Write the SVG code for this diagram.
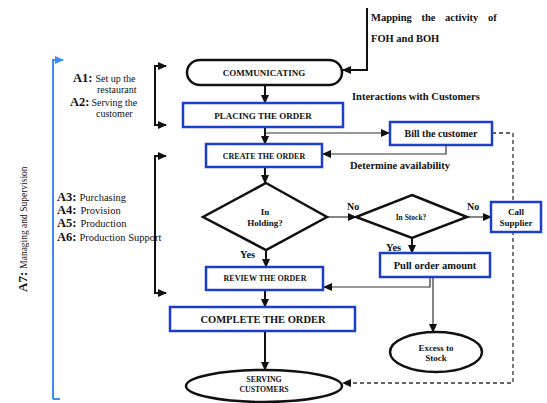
<svg xmlns="http://www.w3.org/2000/svg" width="547" height="403" viewBox="0 0 547 403" font-family="'Liberation Serif', 'DejaVu Serif', serif">
<style>
text{font-family:'Liberation Serif','DejaVu Serif',serif;fill:#111;}
.b{font-weight:bold;}
.c{text-anchor:middle;}
.box{fill:#fff;stroke:#1c3fc7;stroke-width:2.5;}
.blk{fill:#fff;stroke:#111;stroke-width:2.5;}
.ln{fill:none;stroke:#111;stroke-width:2;}
.thin{fill:none;stroke:#333;stroke-width:1.2;}
.dash{fill:none;stroke:#333;stroke-width:1.3;stroke-dasharray:4,3;}
</style>
<defs>
<marker id="ah" markerUnits="userSpaceOnUse" markerWidth="9" markerHeight="8" refX="8" refY="4" orient="auto-start-reverse"><path d="M0,0 L9,4 L0,8 z" fill="#111"/></marker>
<marker id="ahb" markerUnits="userSpaceOnUse" markerWidth="9" markerHeight="8" refX="8" refY="4" orient="auto"><path d="M0,0 L9,4 L0,8 z" fill="#3d8ef0"/></marker>
</defs>

<g id="labels">
<text x="371" y="21" class="b" font-size="10.5" word-spacing="7">Mapping the activity of</text>
<text x="371" y="42" class="b" font-size="10.5">FOH and BOH</text>
<text x="352" y="100" class="b" font-size="10.5">Interactions with Customers</text>
<text x="350" y="169" class="b" font-size="10.5">Determine availability</text>
<text x="240" y="258" class="b" font-size="10.5">Yes</text>
<text x="347" y="210" class="b" font-size="10">No</text>
<text x="467" y="210" class="b" font-size="10">No</text>
<text x="386" y="251" class="b" font-size="10.5">Yes</text>
<text x="73" y="82"><tspan class="b" font-size="12.5">A1:</tspan><tspan font-size="10" dx="3">Set up the</tspan></text>
<text x="97" y="93" font-size="10">restaurant</text>
<text x="70" y="106"><tspan class="b" font-size="12.5">A2:</tspan><tspan font-size="10" dx="2">Serving the</tspan></text>
<text x="96" y="117" font-size="10">customer</text>
<text x="57" y="201"><tspan class="b" font-size="12.5">A3:</tspan><tspan font-size="10.5" dx="3">Purchasing</tspan></text>
<text x="57" y="214"><tspan class="b" font-size="12.5">A4:</tspan><tspan font-size="10.5" dx="4">Provision</tspan></text>
<text x="57" y="227"><tspan class="b" font-size="12.5">A5:</tspan><tspan font-size="10.5" dx="4">Production</tspan></text>
<text x="57" y="241"><tspan class="b" font-size="12.5">A6:</tspan><tspan font-size="10.5" dx="3">Production Support</tspan></text>
<text transform="translate(27,292) rotate(-90)"><tspan class="b" font-size="13">A7:</tspan><tspan font-size="9.5" dx="3">Managing and Supervision</tspan></text>
</g>

<g id="connectors">
<path class="ln" d="M367,8 V70 H343" marker-end="url(#ah)"/>
<path class="ln" d="M265,85 V103" marker-end="url(#ah)"/>
<path class="ln" d="M265,127 V144" marker-end="url(#ah)"/>
<path class="thin" d="M265,133 H389" marker-end="url(#ah)"/>
<path class="thin" d="M446,145 V154 H323" marker-end="url(#ah)"/>
<path class="dash" d="M492,133 H513 V383 H343" marker-end="url(#ah)"/>
<path class="ln" d="M265,167 V183" marker-end="url(#ah)"/>
<path class="ln" d="M266,250 V267" marker-end="url(#ah)"/>
<path class="thin" d="M327,217 H356" marker-end="url(#ah)"/>
<path class="thin" d="M467,217 H491" marker-end="url(#ah)"/>
<path class="ln" d="M412,238 V253" marker-end="url(#ah)"/>
<path class="thin" d="M430,277 V287 H324" marker-end="url(#ah)"/>
<path class="thin" d="M433,277 V332" marker-end="url(#ah)"/>
<path class="ln" d="M265,290 V307" marker-end="url(#ah)"/>
<path class="ln" d="M265,331 V370" marker-end="url(#ah)"/>
<path class="ln" d="M166,66 H155 V125 H166" marker-start="url(#ah)" marker-end="url(#ah)"/>
<path class="ln" d="M166,156 H155 V293 H166" marker-start="url(#ah)" marker-end="url(#ah)"/>
<path fill="none" stroke="#3d8ef0" stroke-width="2" d="M53,399 V60 H63" marker-end="url(#ahb)"/>
<path fill="none" stroke="#3d8ef0" stroke-width="2" d="M53,399 H60"/>
</g>

<g id="communicating">
<rect class="blk" x="187" y="60" width="155" height="25" rx="13" ry="12.5"/>
<text x="264" y="75.5" class="b c" font-size="9">COMMUNICATING</text>
</g>
<g id="placing">
<rect class="box" x="183" y="103" width="160" height="24"/>
<text x="263" y="118.5" class="b c" font-size="9">PLACING THE ORDER</text>
</g>
<g id="bill">
<rect class="box" x="390" y="122" width="102" height="23"/>
<text x="441" y="137" class="b c" font-size="10">Bill the customer</text>
</g>
<g id="create">
<rect class="box" x="206" y="144" width="116" height="23"/>
<text x="264" y="158.5" class="b c" font-size="8">CREATE THE ORDER</text>
</g>
<g id="holding">
<polygon class="blk" points="266,183 327,217 266,250 203,217"/>
<text x="265" y="215" class="b c" font-size="9">In</text>
<text x="265" y="225.5" class="b c" font-size="9">Holding?</text>
</g>
<g id="instock">
<polygon class="blk" points="412,195 467,217 412,238 356,217"/>
<text x="411" y="220" class="b c" font-size="7.5">In Stock?</text>
</g>
<g id="supplier">
<rect class="box" x="491" y="202" width="50" height="30"/>
<text x="516" y="215" class="b c" font-size="9">Call</text>
<text x="516" y="225.5" class="b c" font-size="9">Supplier</text>
</g>
<g id="pull">
<rect class="box" x="380" y="253" width="110" height="24"/>
<text x="435" y="268.5" class="b c" font-size="10.5">Pull order amount</text>
</g>
<g id="review">
<rect class="box" x="206" y="267" width="117" height="23"/>
<text x="265" y="281" class="b c" font-size="8">REVIEW THE ORDER</text>
</g>
<g id="complete">
<rect class="box" x="170" y="307" width="185" height="24"/>
<text x="263" y="322.5" class="b c" font-size="10.5">COMPLETE THE ORDER</text>
</g>
<g id="excess">
<ellipse class="blk" cx="436" cy="352" rx="46" ry="20"/>
<text x="436" y="351" class="b c" font-size="9">Excess to</text>
<text x="436" y="361" class="b c" font-size="9">Stock</text>
</g>
<g id="serving">
<ellipse class="blk" cx="264" cy="386" rx="78" ry="16"/>
<text x="264" y="382" class="b c" font-size="7.8">SERVING</text>
<text x="264" y="391.5" class="b c" font-size="7.8">CUSTOMERS</text>
</g>
</svg>
